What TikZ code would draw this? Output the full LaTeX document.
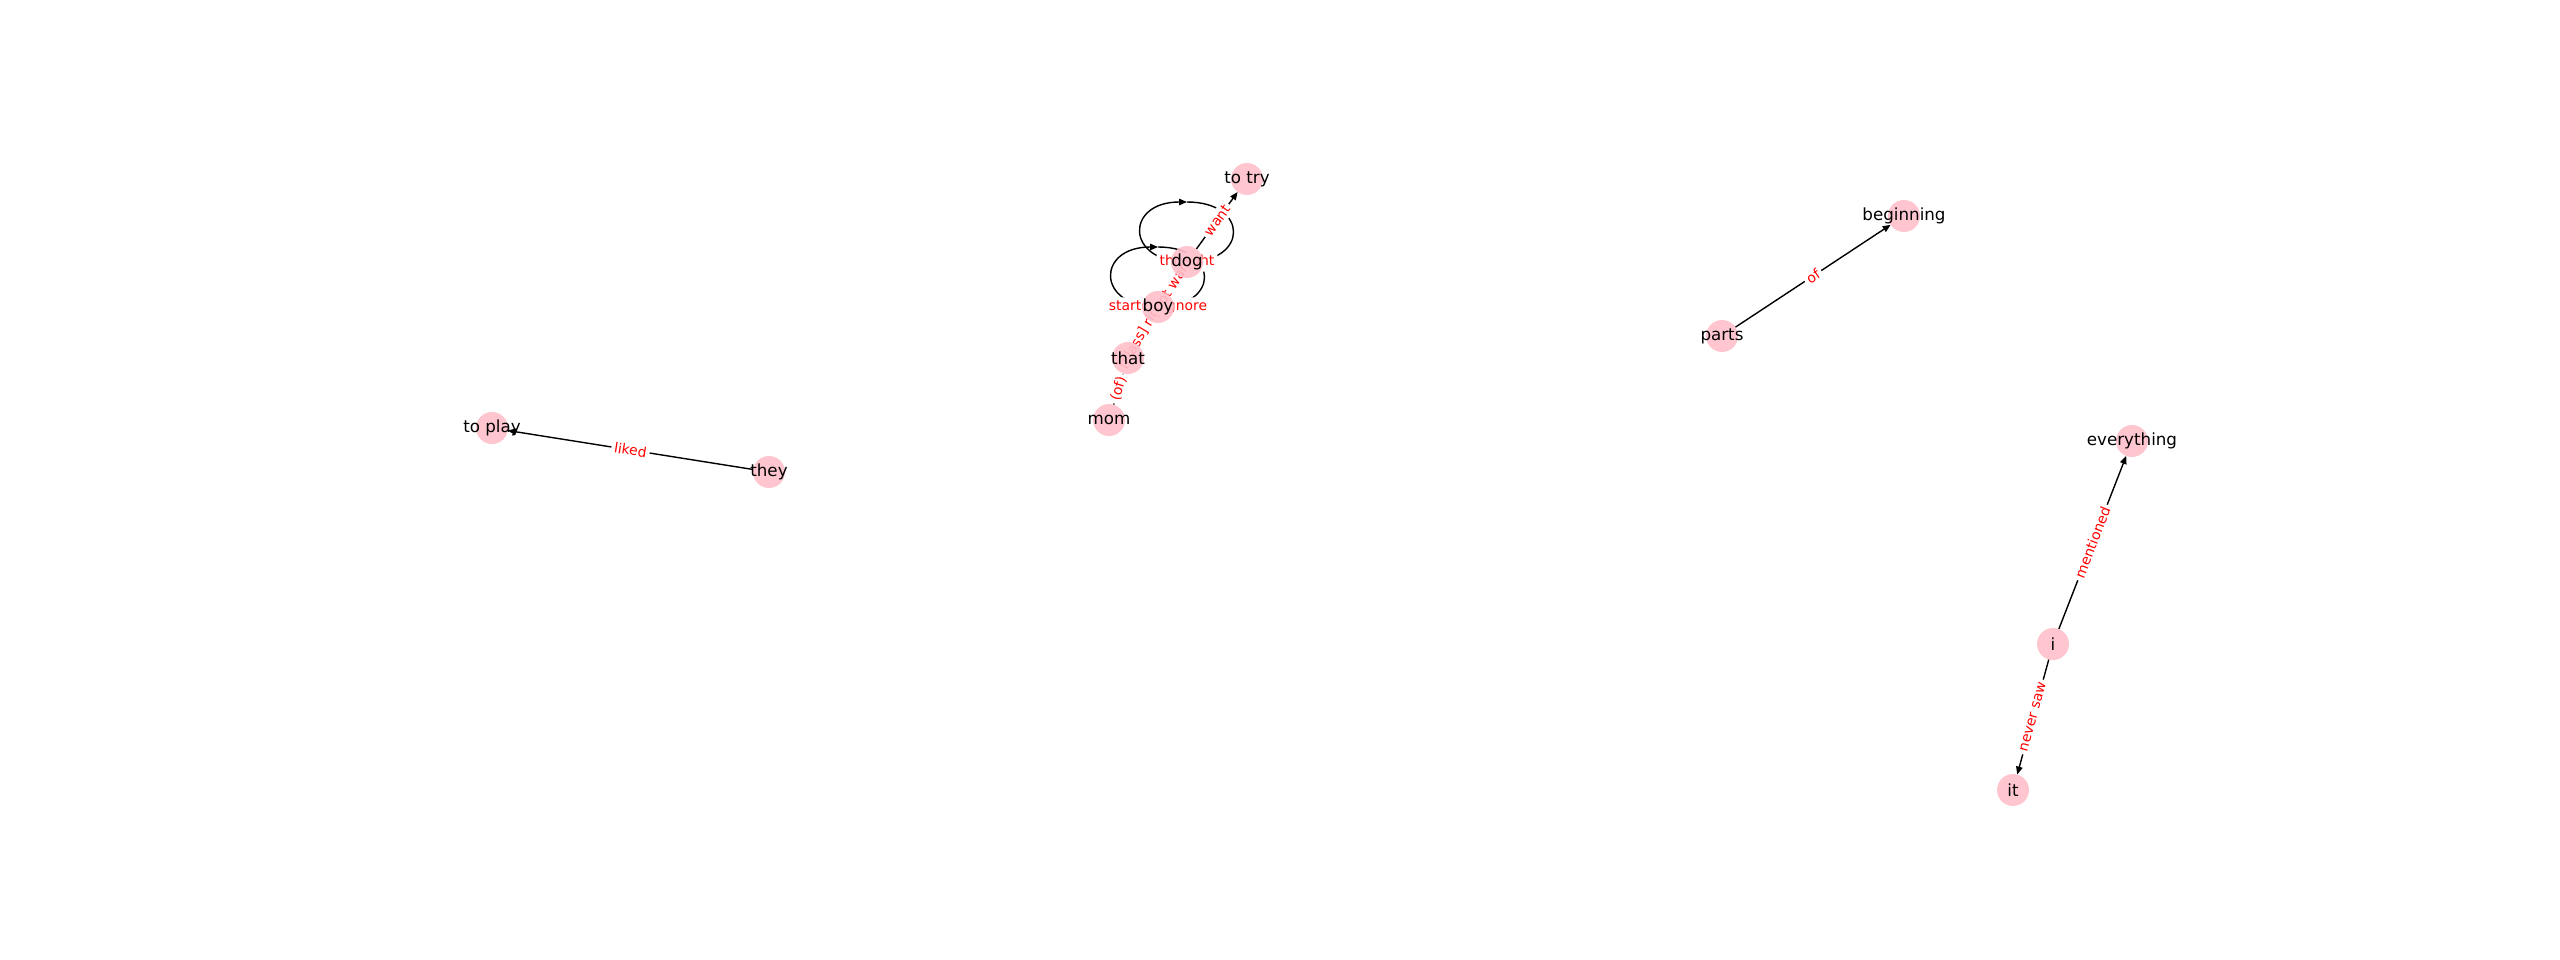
\documentclass[tikz,border=0pt]{standalone}
\usepackage{fontspec}
\setmainfont{DejaVu Sans}
\usetikzlibrary{arrows.meta, calc}
\definecolor{NodePink}{RGB}{255, 192, 203}
\definecolor{LabelRed}{RGB}{255, 0, 0}
\pgfdeclarelayer{edges}
\pgfdeclarelayer{labels}
\pgfsetlayers{edges,labels,main}

\begin{document}
\begin{tikzpicture}[x=1pt, y=-1pt,
    word/.style={circle, fill=NodePink, fill opacity=0.9, minimum size=32pt, inner sep=0pt, outer sep=0pt, label={[font=\fontsize{16.7}{20}\selectfont]center:#1}},
    arrow/.style={-{Triangle[length=8pt, width=6.5pt]}, line width=1.4pt, draw=black},
    rel/.style={sloped, midway, fill=white, text=LabelRed, font=\fontsize{13.9}{16}\selectfont, inner sep=3pt, rounded corners=3pt},
    selfrel/.style={fill=white, text=LabelRed, font=\fontsize{13.9}{16}\selectfont, inner sep=3pt, rounded corners=3pt}
]
\useasboundingbox (0,0) rectangle (2560,960);

% words
\node[word={to play}] (toplay) at (492,428) {};
\node[word={they}] (they) at (769,472) {};
\node[word={to try}] (totry) at (1247,179) {};
\node[word={dog}] (dog) at (1187,262) {};
\node[word={boy}] (boy) at (1158,307) {};
\node[word={that}] (that) at (1128,358) {};
\node[word={mom}] (mom) at (1109,420) {};
\node[word={beginning}] (beginning) at (1904,216) {};
\node[word={parts}] (parts) at (1722,336) {};
\node[word={everything}] (everything) at (2132,441) {};
\node[word={i}] (i) at (2053,644) {};
\node[word={it}] (it) at (2013,790) {};

% relations
\begin{pgfonlayer}{edges}
\draw[arrow] (they) -- (toplay);
\draw[arrow] (mom) -- (that);
\draw[arrow] (that) -- (boy);
\draw[arrow] (boy) -- (dog);
\draw[arrow] (dog) -- (totry);
\draw[arrow] ($(dog.center)+(0,-60)$) .. controls +(62,0) and ($(dog.center)+(62,0)$) .. (dog.center)
    .. controls ($(dog.center)+(-62,0)$) and ($(dog.center)+(-62,-60)$) .. ($(dog.center)+(0,-60)$);
\draw[arrow] ($(boy.center)+(0,-60)$) .. controls +(62,0) and ($(boy.center)+(62,0)$) .. (boy.center)
    .. controls ($(boy.center)+(-62,0)$) and ($(boy.center)+(-62,-60)$) .. ($(boy.center)+(0,-60)$);
\draw[arrow] (parts) -- (beginning);
\draw[arrow] (i) -- (everything);
\draw[arrow] (i) -- (it);
\end{pgfonlayer}

% relation labels
\begin{pgfonlayer}{labels}
\path (they) -- (toplay) node[rel] {liked};
\node[selfrel] (dogloop) at (dog) {thought};
\node[selfrel] (boyloop) at (boy) {started ignore};
\path (mom) -- (that) node[rel] {(of)};
\path (that) -- (boy) node[rel] {[class] right};
\path (boy) -- (dog) node[rel] {not want};
\path (dog) -- (totry) node[rel] {want};
\path (parts) -- (beginning) node[rel] {of};
\path (i) -- (everything) node[rel] {mentioned};
\path (i) -- (it) node[rel] {never saw};
\end{pgfonlayer}
\end{tikzpicture}
\end{document}
